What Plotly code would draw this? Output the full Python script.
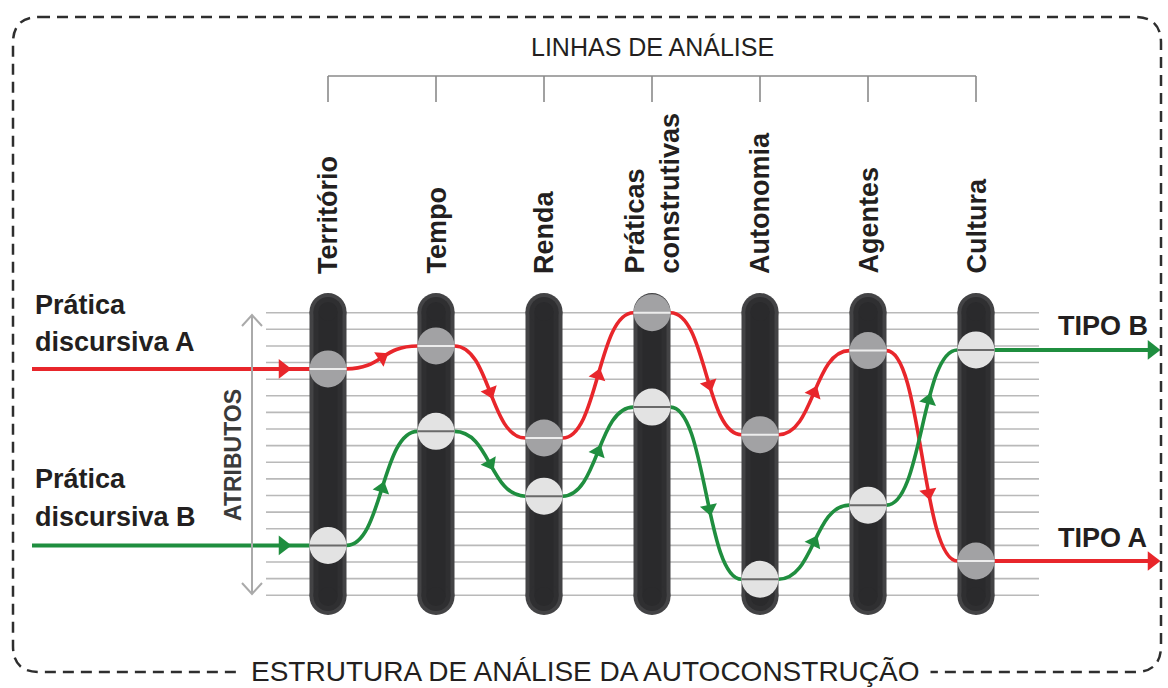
import math
import plotly.graph_objects as go

W, H = 1168, 688

# ---------------- data ----------------
CATEGORIES = ["Território", "Tempo", "Renda", "Práticas<br>construtivas",
              "Autonomia", "Agentes", "Cultura"]
ATTR_LEVELS = list(range(18))          # attribute lines (0 = top)
PRATICA_A = [3.38, 2.0, 7.54, 0.0, 7.34, 2.28, 14.94]
PRATICA_B = [14.0, 7.14, 11.04, 5.68, 16.04, 11.58, 2.24]
LABEL_A = ["Prática", "discursiva A"]
LABEL_B = ["Prática", "discursiva B"]
OUTCOME_A = "TIPO A"
OUTCOME_B = "TIPO B"
HEADER = "LINHAS DE ANÁLISE"
AXIS_LABEL = "ATRIBUTOS"
TITLE = "ESTRUTURA DE ANÁLISE DA AUTOCONSTRUÇÃO"

# ---------------- geometry helpers (pixels -> axis units) ----------------
COL0_PX, COL_STEP_PX = 328, 108
LVL0_PX, LVL_STEP_PX = 312.7, 16.62
ARROW_T = [0.5, 0.5, 0.5, 0.56, 0.5, 0.62]   # where the direction arrow sits on each link


def X(px):
    return (px - COL0_PX) / COL_STEP_PX


def Y(py):
    return (py - LVL0_PX) / LVL_STEP_PX


def PXp(px):
    return px / W


def PYp(py):
    return 1 - py / H


RED = "#e8262b"
GREEN = "#1f8e3f"
FONT = "Liberation Sans, Arial, sans-serif"

R_PX = 18.5
RX = R_PX / COL_STEP_PX
RY = R_PX / LVL_STEP_PX
n = len(CATEGORIES)

shapes = []

# attribute lines
for lv in ATTR_LEVELS:
    shapes.append(dict(type="line", layer="between", xref="x", yref="y",
                       x0=X(266), x1=X(1039), y0=lv, y1=lv,
                       line=dict(color="#b9b9b9", width=1.6)))


def pill(c, half_px, color):
    hx = half_px / COL_STEP_PX
    hy = half_px / LVL_STEP_PX
    top = Y(293 + R_PX)
    bot = Y(615 - R_PX)
    out = [dict(type="rect", layer="between", xref="x", yref="y",
                x0=c - hx, x1=c + hx, y0=top, y1=bot,
                fillcolor=color, line=dict(width=0))]
    for yc in (top, bot):
        out.append(dict(type="circle", layer="between", xref="x", yref="y",
                        x0=c - hx, x1=c + hx, y0=yc - hy, y1=yc + hy,
                        fillcolor=color, line=dict(width=0)))
    return out


for c in range(n):
    shapes += pill(c, R_PX, "#434345")
    shapes += pill(c, R_PX - 4, "#2f2f31")
    shapes += pill(c, R_PX - 9, "#2a2a2c")


def bez(p0, p1, p2, p3, t):
    u = 1 - t
    pt = [u**3 * p0[k] + 3 * u * u * t * p1[k] + 3 * u * t * t * p2[k] + t**3 * p3[k]
          for k in range(2)]
    d = [3 * u * u * (p1[k] - p0[k]) + 6 * u * t * (p2[k] - p1[k]) + 3 * t * t * (p3[k] - p2[k])
         for k in range(2)]
    return pt, d


# curves between columns
arrow_pts = {"A": ([], [], []), "B": ([], [], [])}
for key, vals, col in (("A", PRATICA_A, RED), ("B", PRATICA_B, GREEN)):
    for i in range(n - 1):
        xa, xb = i + RX, i + 1 - RX
        ya, yb = vals[i], vals[i + 1]
        xm = (xa + xb) / 2
        shapes.append(dict(type="path", layer="between", xref="x", yref="y",
                           path=f"M{xa},{ya} C{xm},{ya} {xm},{yb} {xb},{yb}",
                           line=dict(color=col, width=3.6)))
        pt, d = bez((xa, ya), (xm, ya), (xm, yb), (xb, yb), ARROW_T[i])
        arrow_pts[key][0].append(pt[0])
        arrow_pts[key][1].append(pt[1])
        arrow_pts[key][2].append(math.degrees(math.atan2(d[1] * LVL_STEP_PX,
                                                         d[0] * COL_STEP_PX)))
    # entry line
    shapes.append(dict(type="line", layer="between", xref="x", yref="y",
                       x0=X(32), x1=0 - RX, y0=vals[0], y1=vals[0],
                       line=dict(color=col, width=4)))
    # exit line
    shapes.append(dict(type="line", layer="between", xref="x", yref="y",
                       x0=n - 1 + RX, x1=X(1150), y0=vals[-1], y1=vals[-1],
                       line=dict(color=col, width=4)))

# node circles
for vals, fill, mark in ((PRATICA_A, "#a2a2a4", "#ededed"),
                         (PRATICA_B, "#e3e3e3", "#6a6a6a")):
    for c, v in enumerate(vals):
        shapes.append(dict(type="circle", layer="between", xref="x", yref="y",
                           x0=c - RX, x1=c + RX, y0=v - RY, y1=v + RY,
                           fillcolor=fill, line=dict(width=0)))
        shapes.append(dict(type="line", layer="between", xref="x", yref="y",
                           x0=c - RX, x1=c + RX, y0=v, y1=v,
                           line=dict(color=mark, width=2)))

# header bracket
shapes.append(dict(type="line", xref="x", yref="paper", x0=0, x1=n - 1,
                   y0=PYp(76), y1=PYp(76), line=dict(color="#8a8a8a", width=1.6)))
for c in range(n):
    shapes.append(dict(type="line", xref="x", yref="paper", x0=c, x1=c,
                       y0=PYp(76), y1=PYp(102),
                       line=dict(color="#8a8a8a", width=1.6)))

# ATRIBUTOS double arrow
ax_px = 252
shapes.append(dict(type="line", xref="x", yref="y", x0=X(ax_px), x1=X(ax_px),
                   y0=Y(315), y1=Y(594), line=dict(color="#aaaaaa", width=2)))
shapes.append(dict(type="path", xref="x", yref="y",
                   path=f"M{X(ax_px-10)},{Y(326)} L{X(ax_px)},{Y(315)} L{X(ax_px+10)},{Y(326)}",
                   line=dict(color="#aaaaaa", width=2)))
shapes.append(dict(type="path", xref="x", yref="y",
                   path=f"M{X(ax_px-10)},{Y(583)} L{X(ax_px)},{Y(594)} L{X(ax_px+10)},{Y(583)}",
                   line=dict(color="#aaaaaa", width=2)))

# dashed rounded border
L_, R_, T_, B_, RAD = 13, 1161, 17, 672, 26


def pp(x, y):
    return f"{PXp(x)},{PYp(y)}"


border = (f"M{pp(L_ + RAD, T_)} L{pp(R_ - RAD, T_)} Q{pp(R_, T_)} {pp(R_, T_ + RAD)} "
          f"L{pp(R_, B_ - RAD)} Q{pp(R_, B_)} {pp(R_ - RAD, B_)} "
          f"L{pp(L_ + RAD, B_)} Q{pp(L_, B_)} {pp(L_, B_ - RAD)} "
          f"L{pp(L_, T_ + RAD)} Q{pp(L_, T_)} {pp(L_ + RAD, T_)}")
shapes.append(dict(type="path", xref="paper", yref="paper", path=border,
                   line=dict(color="#2e2e2e", width=2.5, dash="11px,7px")))

# ---------------- traces: arrowheads ----------------
fig = go.Figure()
for key, col in (("A", RED), ("B", GREEN)):
    xs, ys, angs = arrow_pts[key]
    fig.add_trace(go.Scatter(x=xs, y=ys, mode="markers", hoverinfo="skip",
                             marker=dict(symbol="triangle-right", size=15, color=col,
                                         angle=angs, line=dict(width=0))))
    vals = PRATICA_A if key == "A" else PRATICA_B
    fig.add_trace(go.Scatter(x=[X(283), X(1152)], y=[vals[0], vals[-1]], mode="markers",
                             hoverinfo="skip",
                             marker=dict(symbol="triangle-right", size=17, color=col,
                                         line=dict(width=0))))

# ---------------- annotations ----------------
ann = []
TXT = "#231f20"
for c, name in enumerate(CATEGORIES):
    ann.append(dict(x=c, y=PYp(276), xref="x", yref="paper", text=f"<b>{name}</b>",
                    textangle=-90, xanchor="center", yanchor="bottom", align="left",
                    showarrow=False, font=dict(size=27, color=TXT, family=FONT)))

ann.append(dict(x=(n - 1) / 2, y=PYp(47), xref="x", yref="paper", text=HEADER,
                showarrow=False, xanchor="center", yanchor="middle",
                font=dict(size=25, color=TXT, family=FONT)))

for (l1, l2), ys in ((LABEL_A, (305, 342)), (LABEL_B, (479, 517))):
    ann.append(dict(x=PXp(33), y=PYp(ys[0]), xref="paper", yref="paper",
                    text=f"<b>{l1}</b>", showarrow=False, xanchor="left", yanchor="middle",
                    font=dict(size=27, color=TXT, family=FONT)))
    ann.append(dict(x=PXp(33), y=PYp(ys[1]), xref="paper", yref="paper",
                    text=f"<b>{l2}</b>", showarrow=False, xanchor="left", yanchor="middle",
                    font=dict(size=27, color=TXT, family=FONT)))

ann.append(dict(x=PXp(1056), y=PYp(326), xref="paper", yref="paper",
                text=f"<b>{OUTCOME_B}</b>", showarrow=False, xanchor="left", yanchor="middle",
                font=dict(size=27, color=TXT, family=FONT)))
ann.append(dict(x=PXp(1056), y=PYp(538), xref="paper", yref="paper",
                text=f"<b>{OUTCOME_A}</b>", showarrow=False, xanchor="left", yanchor="middle",
                font=dict(size=27, color=TXT, family=FONT)))

ann.append(dict(x=X(233), y=Y(455), xref="x", yref="y", text=f"<b>{AXIS_LABEL}</b>",
                textangle=-90, showarrow=False, xanchor="center", yanchor="middle",
                font=dict(size=23, color="#3a3a3a", family=FONT)))

ann.append(dict(x=PXp(585), y=PYp(671), xref="paper", yref="paper", text=TITLE,
                showarrow=False, xanchor="center", yanchor="middle",
                bgcolor="white", borderpad=10,
                font=dict(size=28, color=TXT, family=FONT)))

fig.update_layout(
    width=W, height=H, margin=dict(l=0, r=0, t=0, b=0),
    paper_bgcolor="white", plot_bgcolor="white", showlegend=False,
    shapes=shapes, annotations=ann,
    xaxis=dict(range=[X(0), X(W)], visible=False, fixedrange=True),
    yaxis=dict(range=[Y(H), Y(0)], visible=False, fixedrange=True),
    font=dict(family=FONT),
)

fig.write_html("out.html", config={"displayModeBar": False},
               post_script="document.body.style.margin='0';document.body.style.overflow='hidden';")
